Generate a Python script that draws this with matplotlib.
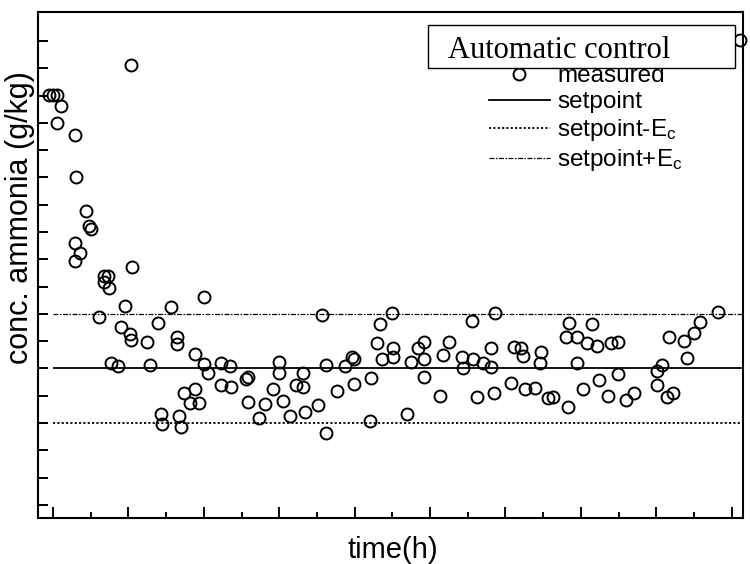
import numpy as np
import matplotlib
matplotlib.use('Agg')
import matplotlib.pyplot as plt
from matplotlib.lines import Line2D
from matplotlib.patches import Rectangle

# measured ammonia concentration (axis units, no tick labels in original)
time_h = [-0.11, 0.00, 0.11, 0.20, 0.11, 0.58, 0.60, 0.88, 0.95, 1.00,
          0.58, 0.71, 0.58, 1.34, 1.46, 1.35, 1.48, 1.21, 1.53, 1.71,
          1.79, 1.92, 2.03, 2.08, 2.06, 2.10, 2.49, 2.56, 2.79, 2.86,
          2.89, 3.13, 3.28, 3.30, 3.35, 3.39, 3.47, 3.62, 3.77, 3.77,
          3.87, 3.99, 4.01, 4.12, 4.46, 4.46, 4.68, 4.72, 5.12, 5.18,
          5.18, 5.45, 5.62, 5.84, 5.98, 5.98, 6.11, 6.29, 6.45, 6.62,
          6.62, 6.68, 7.04, 7.13, 7.24, 7.24, 7.53, 7.75, 7.92, 7.98,
          7.97, 8.43, 8.41, 8.59, 8.66, 8.72, 8.98, 9.01, 9.01, 9.40,
          9.49, 9.69, 9.84, 9.84, 9.84, 10.27, 10.34, 10.49, 10.84, 10.88,
          11.11, 11.15, 11.25, 11.40, 11.61, 11.61, 11.70, 11.72, 12.14, 12.23,
          12.41, 12.46, 12.52, 12.79, 12.94, 12.92, 13.14, 13.27, 13.61, 13.67,
          13.69, 13.89, 13.91, 14.05, 14.16, 14.30, 14.43, 14.49, 14.73, 14.79,
          14.99, 14.99, 15.20, 15.41, 16.01, 16.03, 16.15, 16.29, 16.35, 16.44,
          16.74, 16.82, 17.00, 17.16, 17.65, 18.22]
conc = [15.02, 15.02, 15.02, 14.62, 14.00, 13.55, 12.03, 10.77, 10.22, 10.10,
        9.61, 9.22, 8.95, 8.39, 8.39, 8.18, 7.94, 6.88, 5.19, 5.09,
        6.53, 7.29, 6.26, 6.04, 16.12, 8.73, 5.97, 5.13, 6.68, 3.32,
        2.97, 7.26, 6.14, 5.90, 3.26, 2.87, 4.09, 3.73, 5.53, 4.26,
        3.73, 5.16, 7.63, 4.85, 5.21, 4.38, 5.09, 4.33, 4.60, 4.68,
        3.76, 3.18, 3.69, 4.24, 5.24, 4.85, 3.81, 3.26, 4.38, 4.85,
        4.31, 3.42, 3.66, 6.96, 5.13, 2.65, 4.19, 5.09, 5.43, 5.34,
        4.43, 4.64, 3.09, 5.92, 6.63, 5.34, 7.04, 5.74, 5.41, 3.33,
        5.25, 5.74, 5.98, 5.34, 4.68, 3.99, 5.49, 5.98, 5.41, 5.01,
        6.75, 5.35, 3.95, 5.19, 5.74, 5.04, 4.11, 7.02, 4.48, 5.80,
        5.74, 5.46, 4.24, 4.27, 5.62, 5.19, 3.91, 3.97, 6.14, 3.58,
        6.68, 5.19, 6.14, 4.24, 5.92, 6.63, 5.82, 4.58, 3.99, 5.95,
        5.98, 4.80, 3.85, 4.09, 4.40, 4.92, 5.13, 3.95, 6.14, 4.09,
        6.02, 5.37, 6.29, 6.71, 7.06, 17.03]

setpoint = 5.0
e_c = 2.0
line_start = 0.0

xmin, xmax = -0.40, 18.30
ymin, ymax = -0.48, 18.06

plt.rcParams['font.family'] = ['Liberation Sans', 'DejaVu Sans']

fig = plt.figure(figsize=(7.5, 5.64), dpi=100)
ax = fig.add_axes([38/750, 46/564, 705/750, 506/564])

ax.plot(time_h, conc, 'o', ms=8.6, mfc='none', mec='black', mew=1.4,
        clip_on=False, zorder=4)

ax.hlines(setpoint, line_start, xmax, colors='black', lw=1.3)
ax.hlines(setpoint - e_c, line_start, xmax, colors='black', lw=1.3,
          linestyles=[(0, (1.2, 1.2))])
ax.hlines(setpoint + e_c, line_start, xmax, colors='black', lw=0.9,
          linestyles=[(0, (4, 1.2, 1.2, 1.2))])

ax.set_xlim(xmin, xmax)
ax.set_ylim(ymin, ymax)

ax.set_xticks(np.arange(0, 19, 2))
ax.set_xticks(np.arange(1, 19, 2), minor=True)
ax.set_yticks(np.arange(0, 18, 1))
ax.tick_params(which='major', direction='in', length=8, width=1.4,
               labelbottom=False, labelleft=False, top=False, right=False)
ax.tick_params(which='minor', direction='in', length=4.5, width=1.4,
               top=False, right=False)
ax.tick_params(axis='y', which='major', length=7.5)
for sp in ax.spines.values():
    sp.set_linewidth(1.5)

ax.set_xlabel('time(h)', fontsize=21)
ax.xaxis.set_label_coords(0.5035, -0.036)
ax.set_ylabel('conc. ammonia (g/kg)', fontsize=22)
ax.yaxis.set_label_coords(-0.004, 0.593)

handles = [
    Line2D([], [], ls='none', marker='o', ms=8.6, mfc='none', mec='black', mew=1.4),
    Line2D([], [], color='black', lw=1.3),
    Line2D([], [], color='black', lw=1.3, ls=(0, (1.2, 1.2))),
    Line2D([], [], color='black', lw=0.9, ls=(0, (4, 1.2, 1.2, 1.2))),
]
labels = ['measured', 'setpoint', 'setpoint-$\\mathregular{E_c}$',
          'setpoint+$\\mathregular{E_c}$']
ax.legend(handles, labels, loc='upper left', bbox_to_anchor=(489/750, 1 - 65/564),
          bbox_transform=fig.transFigure, frameon=False, fontsize=17.5,
          handlelength=2.5, handletextpad=0.3, labelspacing=0.17, borderpad=0,
          borderaxespad=0)

# title box drawn over the first legend row, as in the original
ax.add_patch(Rectangle((428/750, 1 - 68/564), 307/750, 43/564,
                       transform=fig.transFigure, fc='white', ec='black',
                       lw=1.0, zorder=9, clip_on=False))
ax.text(448/750, 1 - 58/564, 'Automatic control', transform=fig.transFigure,
        ha='left', va='baseline', fontsize=22, family='Liberation Serif',
        zorder=10)

fig.savefig('out.png', dpi=100)
